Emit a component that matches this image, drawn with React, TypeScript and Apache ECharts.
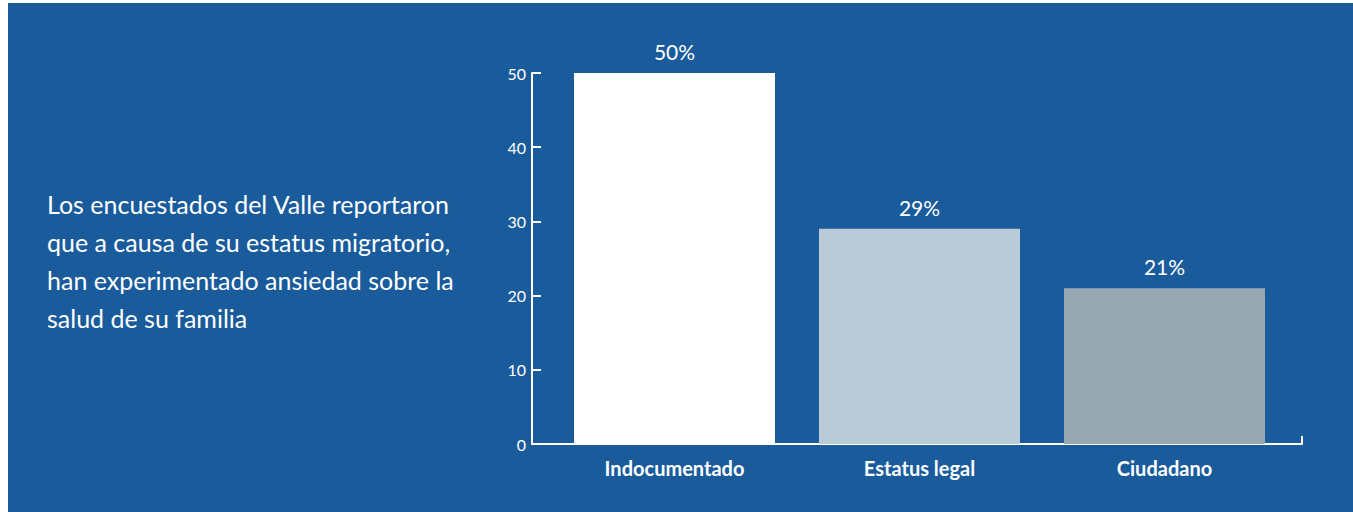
import React, { useEffect, useRef } from "react";
import * as echarts from "echarts";

const categories = ["Indocumentado", "Estatus legal", "Ciudadano"];
const values = [50, 29, 21];
const barColors = ["#ffffff", "#b8cbd6", "#97a8b3"];
const yMin = 0;
const yMax = 50;
const yInterval = 10;
const description = [
  "Los encuestados del Valle reportaron",
  "que a causa de su estatus migratorio,",
  "han experimentado ansiedad sobre la",
  "salud de su familia",
];

const FONT = "Lato, 'Noto Sans', sans-serif";

export default function App() {
  const ref = useRef<HTMLDivElement>(null);
  useEffect(() => {
    document.body.style.margin = "0";
    if (!ref.current) return;
    const chart = echarts.init(ref.current, undefined, { renderer: "svg" });
    chart.setOption({
      animation: false,
      backgroundColor: "transparent",
      textStyle: { fontFamily: FONT },
      grid: [
        { left: 532, top: 73, width: 770, height: 371 },
        { left: 552, top: 73, width: 735, height: 371 },
      ],
      xAxis: [
        {
          type: "value",
          gridIndex: 0,
          min: 0,
          max: 1,
          interval: 1,
          axisLine: { show: true, lineStyle: { color: "#ffffff", width: 2 } },
          axisTick: { show: true, inside: true, length: 8, lineStyle: { color: "#ffffff", width: 2 } },
          axisLabel: { show: false },
          splitLine: { show: false },
        },
        {
          type: "category",
          gridIndex: 1,
          data: categories,
          axisLine: { show: false },
          axisTick: { show: false },
          axisLabel: {
            color: "#ffffff",
            fontSize: 20,
            fontWeight: "bold",
            fontFamily: FONT,
            margin: 14,
          },
        },
      ],
      yAxis: [
        {
          type: "value",
          gridIndex: 0,
          min: yMin,
          max: yMax,
          interval: yInterval,
          axisLine: { show: true, lineStyle: { color: "#ffffff", width: 2 } },
          axisTick: { show: true, inside: true, length: 9, lineStyle: { color: "#ffffff", width: 2 } },
          axisLabel: { color: "#ffffff", fontSize: 16, margin: 6, fontFamily: FONT },
          splitLine: { show: false },
        },
        {
          type: "value",
          gridIndex: 1,
          min: yMin,
          max: yMax,
          show: false,
          splitLine: { show: false },
        },
      ],
      series: [
        {
          type: "bar",
          xAxisIndex: 1,
          yAxisIndex: 1,
          barWidth: 201,
          data: values.map((v, i) => ({ value: v, itemStyle: { color: barColors[i] } })),
          label: {
            show: true,
            position: "top",
            distance: 11,
            formatter: "{c}%",
            color: "#ffffff",
            fontSize: 21,
            fontFamily: FONT,
          },
        },
      ],
      graphic: [
        {
          type: "text",
          left: 47,
          top: 185,
          style: {
            text: description.join("\n"),
            fill: "#ffffff",
            font: `25px ${FONT}`,
            lineHeight: 38,
          },
        },
      ],
    });
    return () => chart.dispose();
  }, []);

  return (
    <div style={{ position: "relative", width: 1353, height: 512, background: "#ffffff" }}>
      <div
        style={{
          position: "absolute",
          left: 8,
          top: 3,
          right: 0,
          bottom: 0,
          background: "#195b9b",
        }}
      />
      <div ref={ref} style={{ position: "absolute", left: 0, top: 0, width: 1353, height: 512 }} />
    </div>
  );
}
